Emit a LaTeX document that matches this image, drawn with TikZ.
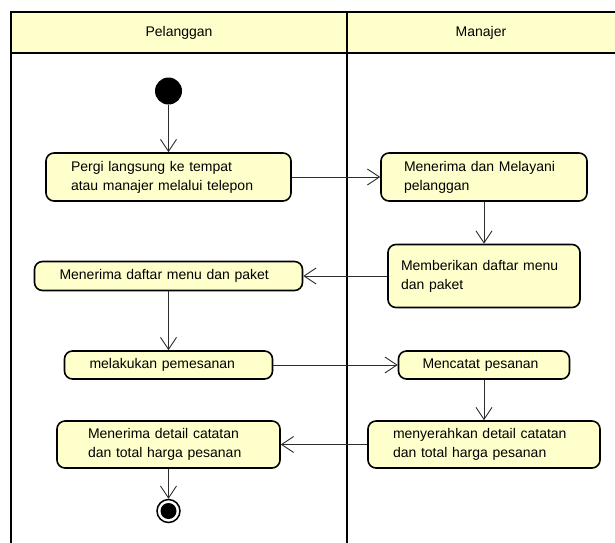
\documentclass[tikz,border=0pt]{standalone}
\usepackage{fontspec}
\setmainfont{Liberation Sans}
\usetikzlibrary{arrows.meta}
\definecolor{actfill}{RGB}{255,255,204}
\definecolor{flowline}{RGB}{45,45,45}

\begin{document}
\begin{tikzpicture}[x=1pt,y=-1pt,
  action/.style={draw=black, line width=1.6pt, fill=actfill, rounded corners=8pt,
    align=left, inner ysep=0pt, font=\fontsize{14}{19}\selectfont},
  flow/.style={draw=flowline, line width=0.9pt, -{Straight Barb[length=12pt,width=16pt]}},
  lane/.style={draw=black, line width=2.2pt},
  head/.style={font=\fontsize{14}{17}\selectfont, inner sep=0pt},
]
\useasboundingbox (0,0) rectangle (615,542);
\clip (0,0) rectangle (615,542);

% swimlane frame: header band, outer border and lane divider
\fill[actfill] (11,12) rectangle (630,53);
\draw[lane] (630,12) -- (11,12) -- (11,560);
\draw[lane] (11,53) -- (630,53);
\draw[lane] (347,12) -- (347,560);
\node[head] (laneA) at (179,33) {Pelanggan};
\node[head] (laneB) at (481,33) {Manajer};

% initial and final states
\node[circle, fill=black, minimum size=27pt, inner sep=0pt] (start) at (168.5,91) {};
\node[circle, draw=black, line width=1.5pt, fill=white, minimum size=23pt, inner sep=0pt,
  path picture={\fill[black] (path picture bounding box.center) circle (8pt);}] (stop) at (168.5,511) {};

% actions of the customer lane
\node[action, minimum width=245pt, minimum height=48pt, text width=195pt, inner xsep=25pt]
  (b1) at (168.5,177) {Pergi langsung ke tempat\\atau manajer melalui telepon};
\node[action, minimum width=268pt, minimum height=29pt, text width=218pt, inner xsep=25pt]
  (b4) at (168.5,276) {Menerima daftar menu dan paket};
\node[action, minimum width=208pt, minimum height=28pt, text width=158pt, inner xsep=25pt]
  (b5) at (168.5,365) {melakukan pemesanan};
\node[action, minimum width=223pt, minimum height=47pt, text width=161pt, inner xsep=31pt]
  (b8) at (168.5,444.5) {Menerima detail catatan\\dan total harga pesanan};

% actions of the manager lane
\node[action, minimum width=206pt, minimum height=48pt, text width=160pt, inner xsep=23pt]
  (b2) at (484,177) {Menerima dan Melayani\\pelanggan};
\node[action, minimum width=192pt, minimum height=63pt, text width=166pt, inner xsep=13pt]
  (b3) at (484,276) {Memberikan daftar menu\\dan paket};
\node[action, minimum width=171pt, minimum height=28pt, text width=123pt, inner xsep=24pt]
  (b6) at (484,365) {Mencatat pesanan};
\node[action, minimum width=232pt, minimum height=47pt, text width=182pt, inner xsep=25pt]
  (b7) at (484,444.5) {menyerahkan detail catatan\\dan total harga pesanan};

% control flow
\draw[flow] (start) -- (b1);
\draw[flow] (b1) -- (b2);
\draw[flow] (b2) -- (b3);
\draw[flow] (b3) -- (b4);
\draw[flow] (b4) -- (b5);
\draw[flow] (b5) -- (b6);
\draw[flow] (b6) -- (b7);
\draw[flow] (b7) -- (b8);
\draw[flow] (b8) -- (stop);
\end{tikzpicture}
\end{document}
